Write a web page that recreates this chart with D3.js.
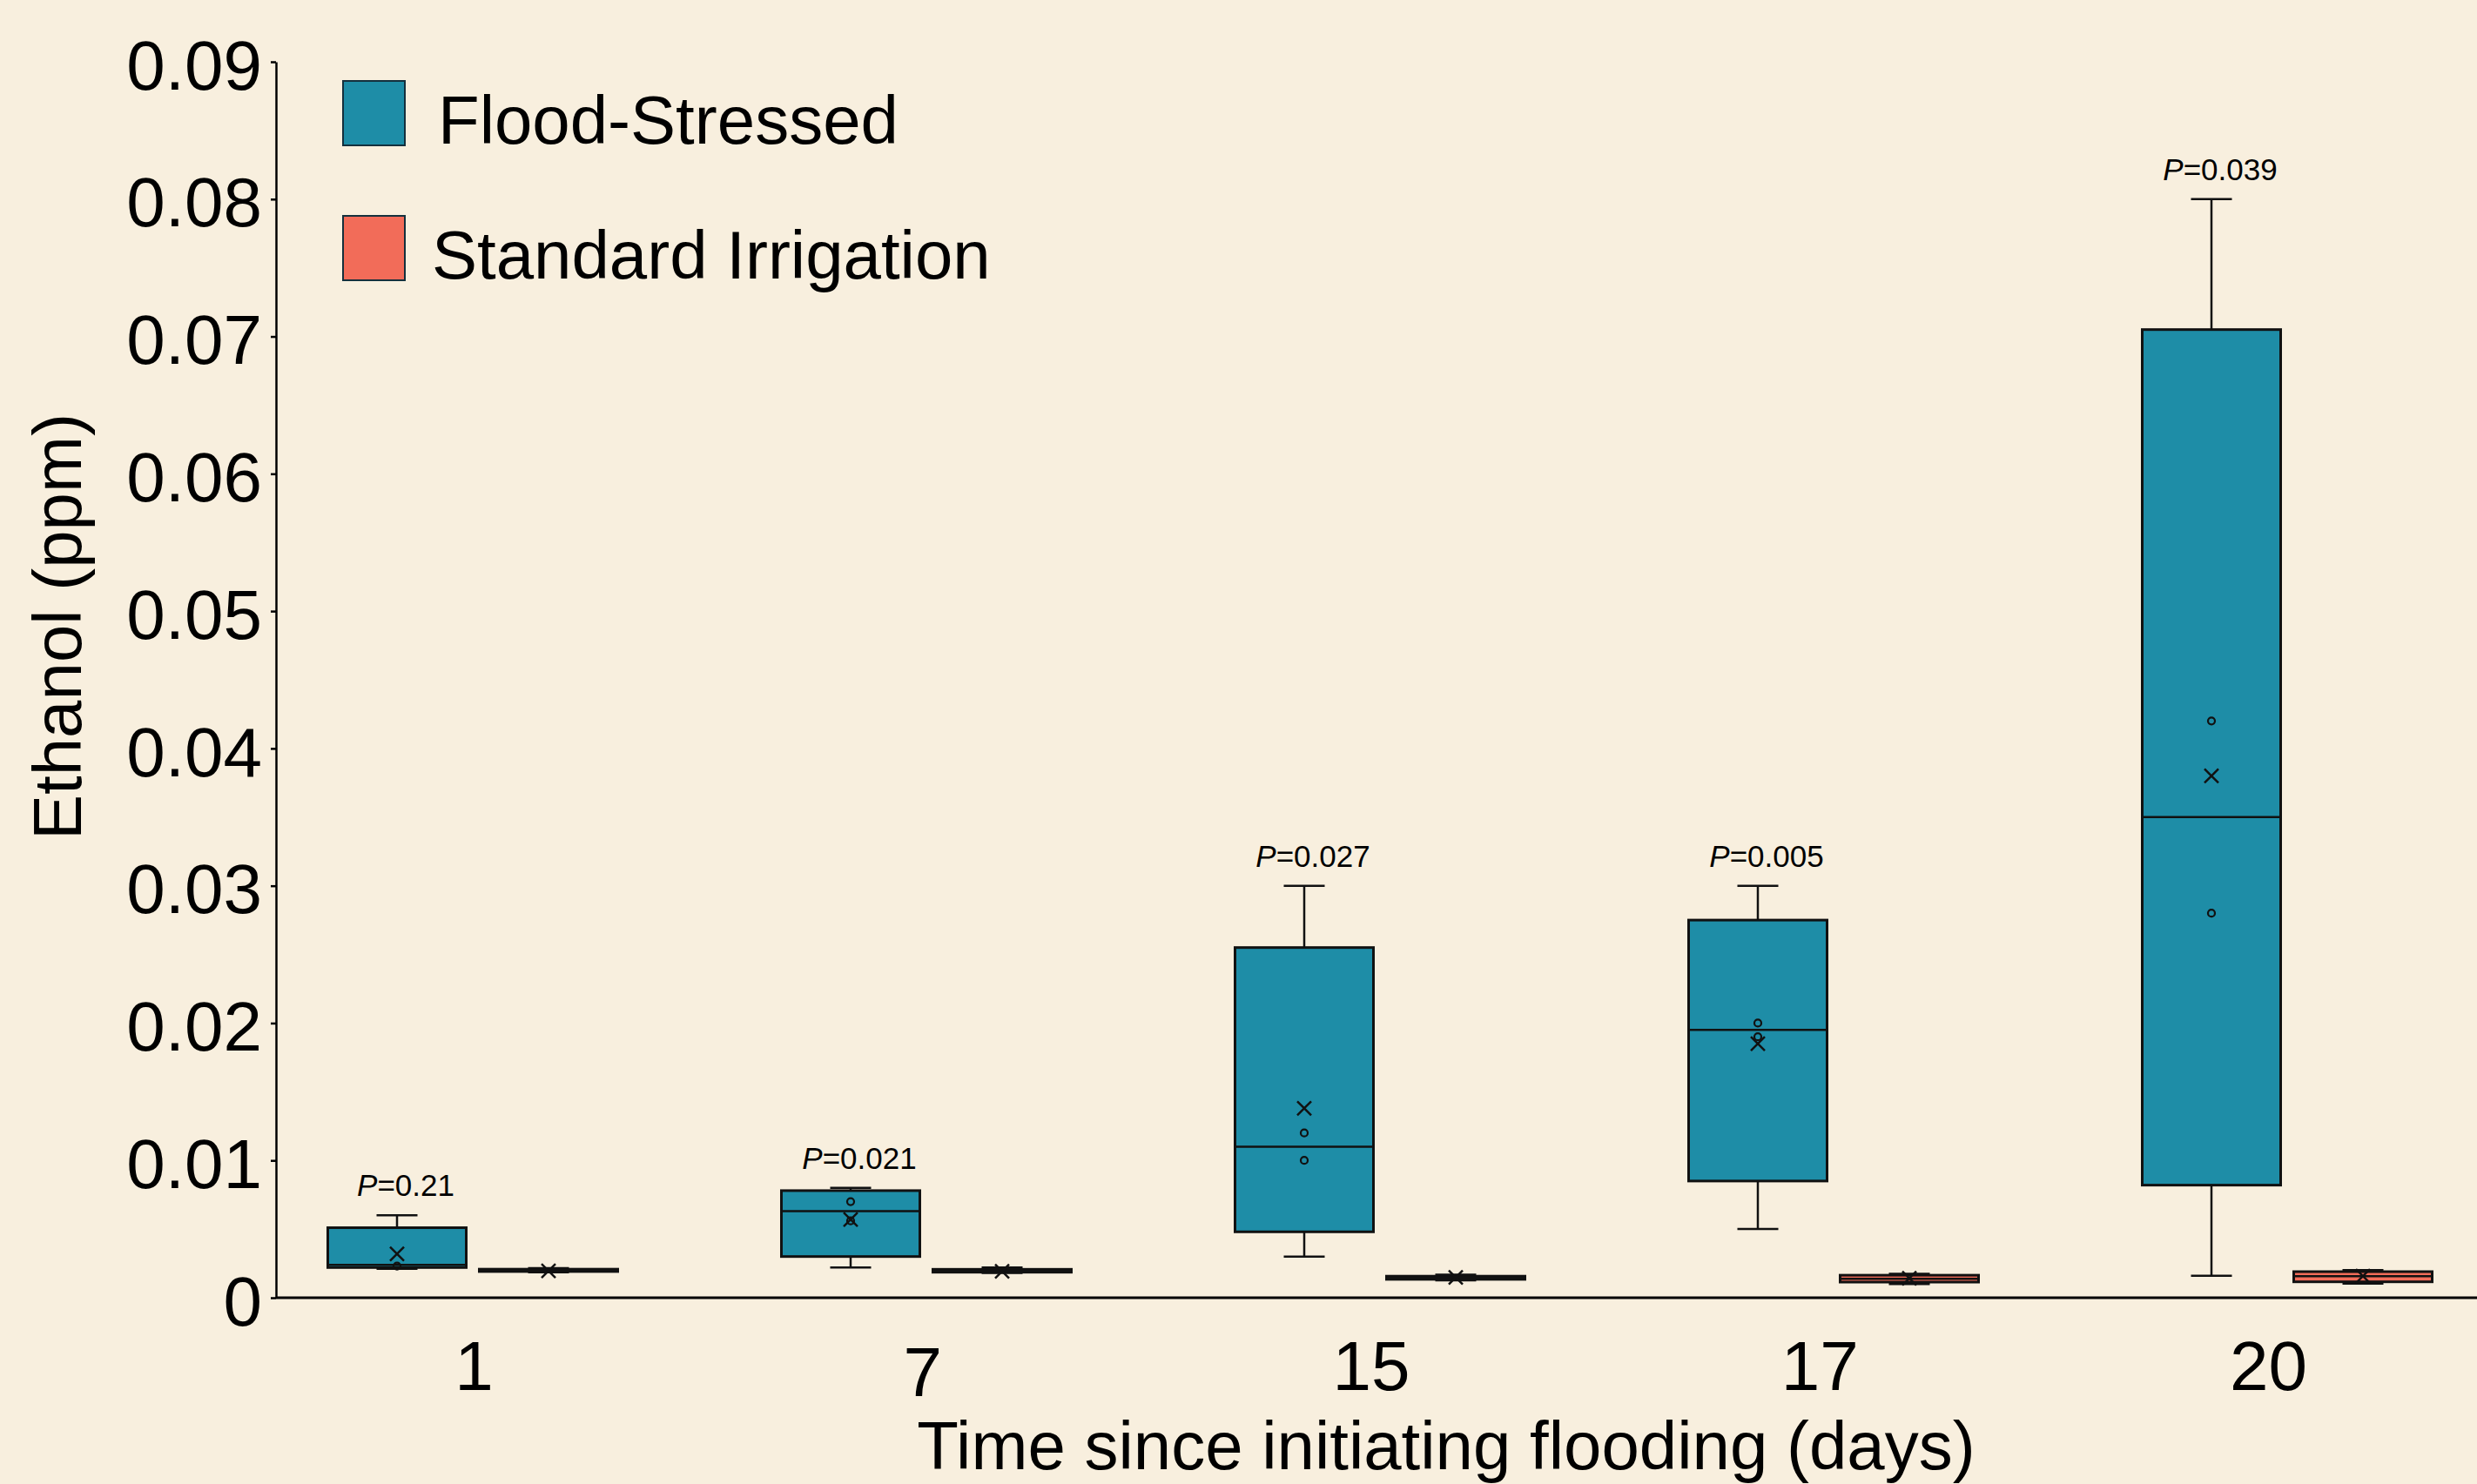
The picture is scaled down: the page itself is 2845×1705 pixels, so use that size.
<!DOCTYPE html>
<html>
<head>
<meta charset="utf-8">
<script src="https://cdn.jsdelivr.net/npm/d3@7/dist/d3.min.js"></script>
<style>
  html, body { margin: 0; padding: 0; background: #F8EFDE; }
  svg { display: block; }
  text { font-family: "Liberation Sans", Arial, sans-serif; fill: #000; }
</style>
</head>
<body>
<svg id="chart" width="2845" height="1705"></svg>
<script>
// ---------------- DATA ----------------
const days = ["1", "7", "15", "17", "20"];
const seriesNames = ["Flood-Stressed", "Standard Irrigation"];
const pValues = ["0.21", "0.021", "0.027", "0.005", "0.039"];

// Flood-Stressed box statistics (ppm)
const floodMin    = [0.0021, 0.0022, 0.0030, 0.0050, 0.0016];
const floodQ1     = [0.0022, 0.0030, 0.0048, 0.0085, 0.0082];
const floodMedian = [0.0024, 0.0063, 0.0110, 0.0195, 0.0350];
const floodQ3     = [0.0051, 0.0078, 0.0255, 0.0275, 0.0705];
const floodMax    = [0.0060, 0.0080, 0.0300, 0.0300, 0.0800];
const floodMean   = [0.0032, 0.0057, 0.0138, 0.0185, 0.0380];
const floodPoints = [[0.0023], [0.0070, 0.0056], [0.0120, 0.0100], [0.0200, 0.0190], [0.0420, 0.0280]];

// Standard Irrigation box statistics (ppm)
const stdMin    = [0.00185, 0.00180, 0.00127, 0.00100, 0.00103];
const stdQ1     = [0.00191, 0.00186, 0.00134, 0.00114, 0.00116];
const stdMedian = [0.00199, 0.00196, 0.00146, 0.00138, 0.00157];
const stdQ3     = [0.00208, 0.00207, 0.00157, 0.00164, 0.00190];
const stdMax    = [0.00215, 0.00220, 0.00168, 0.00175, 0.00201];
const stdMean   = [0.00196, 0.00192, 0.00148, 0.00142, 0.00158];

const yTickValues = [0, 0.01, 0.02, 0.03, 0.04, 0.05, 0.06, 0.07, 0.08, 0.09];
const yTickLabels = ["0", "0.01", "0.02", "0.03", "0.04", "0.05", "0.06", "0.07", "0.08", "0.09"];

const xTitle = "Time since initiating flooding (days)";
const yTitle = "Ethanol (ppm)";

// ---------------- STYLE / LAYOUT ----------------
const colors = { flood: "#1E8DA7", std: "#F26C59", bg: "#F8EFDE" };
const W = 2845, H = 1705;
const axisX = 317, axisRight = 2845;
const boxW = 159, capW = 47, groupOffset = 87;

const svg = d3.select("#chart");
svg.append("rect").attr("width", W).attr("height", H).attr("fill", colors.bg);

const y = d3.scaleLinear().domain([0, 0.09]).range([1491, 71]);
const xGroup = d3.scalePoint().domain(days).range([543, 2627]);
const xLabel = d3.scalePoint().domain(days).range([544, 2605]);

function build(series, mins, q1s, meds, q3s, maxs, means, pts, off) {
  return days.map((d, i) => ({
    day: d, series, min: mins[i], q1: q1s[i], med: meds[i], q3: q3s[i], max: maxs[i],
    mean: means[i], pts: pts ? pts[i] : [], cx: xGroup(d) + off
  }));
}
const floodBoxes = build("flood", floodMin, floodQ1, floodMedian, floodQ3, floodMax, floodMean, floodPoints, -groupOffset);
const stdBoxes = build("std", stdMin, stdQ1, stdMedian, stdQ3, stdMax, stdMean, null, groupOffset);
const allBoxes = floodBoxes.concat(stdBoxes);

// ---------------- AXES ----------------
const yAxis = d3.axisLeft(y)
  .tickValues(yTickValues)
  .tickFormat((d, i) => yTickLabels[i])
  .tickSize(6).tickSizeOuter(0).tickPadding(10);

const gy = svg.append("g").attr("transform", `translate(${axisX},0)`).call(yAxis);
gy.select(".domain").attr("stroke", "#000").attr("stroke-width", 2.5);
gy.selectAll(".tick line").attr("stroke", "#000").attr("stroke-width", 2.5);
gy.selectAll(".tick text").attr("font-size", 80).attr("dy", "0.39em")
  .attr("font-family", "'Liberation Sans', Arial, sans-serif").attr("fill", "#000");

svg.append("line")
  .attr("x1", axisX).attr("x2", axisRight)
  .attr("y1", y(0)).attr("y2", y(0))
  .attr("stroke", "#000").attr("stroke-width", 3);

const xAxis = d3.axisBottom(xLabel).tickSize(0).tickSizeOuter(0).tickPadding(0);
const gx = svg.append("g").attr("transform", `translate(0,${y(0)})`).call(xAxis);
gx.select(".domain").remove();
gx.selectAll(".tick text").attr("font-size", 80).attr("y", (d, i) => i === 1 ? 113 : 106).attr("dy", 0)
  .attr("font-family", "'Liberation Sans', Arial, sans-serif").attr("fill", "#000");

svg.append("text").attr("x", 1661).attr("y", 1688).attr("text-anchor", "middle")
  .attr("font-size", 78).text(xTitle);
svg.append("text").attr("transform", "translate(93,720) rotate(-90)").attr("text-anchor", "middle")
  .attr("font-size", 78).text(yTitle);

// ---------------- BOXES ----------------
const g = svg.append("g");
const bx = g.selectAll("g.box").data(allBoxes).join("g").attr("class", "box");

bx.append("line").attr("x1", d => d.cx).attr("x2", d => d.cx)
  .attr("y1", d => y(d.max)).attr("y2", d => y(d.q3))
  .attr("stroke", "#111").attr("stroke-width", 2.5);
bx.append("line").attr("x1", d => d.cx).attr("x2", d => d.cx)
  .attr("y1", d => y(d.q1)).attr("y2", d => y(d.min))
  .attr("stroke", "#111").attr("stroke-width", 2.5);
bx.append("line").attr("x1", d => d.cx - capW / 2).attr("x2", d => d.cx + capW / 2)
  .attr("y1", d => y(d.max)).attr("y2", d => y(d.max))
  .attr("stroke", "#111").attr("stroke-width", 2.5);
bx.append("line").attr("x1", d => d.cx - capW / 2).attr("x2", d => d.cx + capW / 2)
  .attr("y1", d => y(d.min)).attr("y2", d => y(d.min))
  .attr("stroke", "#111").attr("stroke-width", 2.5);
bx.append("rect")
  .attr("x", d => d.cx - boxW / 2).attr("width", boxW)
  .attr("y", d => y(d.q3)).attr("height", d => y(d.q1) - y(d.q3))
  .attr("fill", d => colors[d.series])
  .attr("stroke", "#111").attr("stroke-width", 3);
bx.append("line").attr("x1", d => d.cx - boxW / 2).attr("x2", d => d.cx + boxW / 2)
  .attr("y1", d => y(d.med)).attr("y2", d => y(d.med))
  .attr("stroke", "#111").attr("stroke-width", 2.5);
bx.selectAll("circle.pt").data(d => d.pts.map(v => ({ v, cx: d.cx }))).join("circle")
  .attr("class", "pt").attr("cx", d => d.cx).attr("cy", d => y(d.v)).attr("r", 4)
  .attr("fill", "none").attr("stroke", "#111").attr("stroke-width", 2.2);
bx.append("path")
  .attr("transform", d => `translate(${d.cx},${y(d.mean)})`)
  .attr("d", "M-8,-8L8,8M-8,8L8,-8")
  .attr("stroke", "#111").attr("stroke-width", 2.5).attr("fill", "none");

// ---------------- P-VALUE LABELS ----------------
const pl = svg.append("g").selectAll("text").data(floodBoxes).join("text")
  .attr("x", d => d.cx + 10).attr("y", d => y(d.max) - 22)
  .attr("text-anchor", "middle").attr("font-size", 35);
pl.append("tspan").attr("font-style", "italic").text("P");
pl.append("tspan").text((d, i) => "=" + pValues[i]);

// ---------------- LEGEND ----------------
const legendY = [93, 248];
const legendTextX = [503, 496];
const leg = svg.append("g").selectAll("g").data(seriesNames).join("g");
leg.append("rect").attr("x", 394).attr("y", (d, i) => legendY[i]).attr("width", 71).attr("height", 74)
  .attr("fill", (d, i) => i === 0 ? colors.flood : colors.std)
  .attr("stroke", "#14303d").attr("stroke-width", 2);
leg.append("text").attr("x", (d, i) => legendTextX[i]).attr("y", (d, i) => legendY[i] + 72)
  .attr("font-size", 78).text(d => d);
</script>
</body>
</html>
